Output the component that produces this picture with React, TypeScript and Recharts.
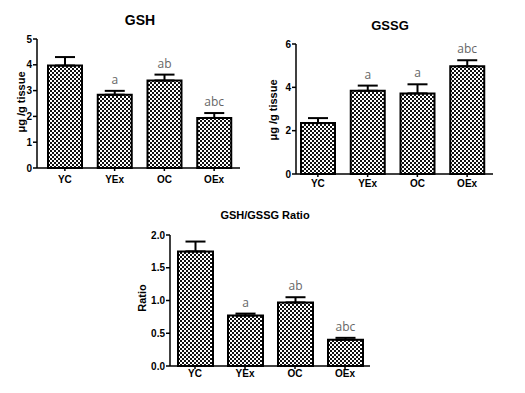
import React from "react";
import { BarChart, Bar, XAxis, YAxis, ErrorBar, LabelList } from "recharts";

const categories = ["YC", "YEx", "OC", "OEx"];

const gshMean = [3.97, 2.84, 3.39, 1.94];
const gshErr = [0.33, 0.15, 0.23, 0.19];
const gshLetters = ["", "a", "ab", "abc"];
const gshTicks = [0, 1, 2, 3, 4, 5];

const gssgMean = [2.35, 3.84, 3.72, 4.97];
const gssgErr = [0.23, 0.24, 0.42, 0.28];
const gssgLetters = ["", "a", "a", "abc"];
const gssgTicks = [0, 2, 4, 6];

const ratioMean = [1.75, 0.77, 0.97, 0.4];
const ratioErr = [0.15, 0.03, 0.08, 0.03];
const ratioLetters = ["", "a", "ab", "abc"];
const ratioTicks = [0, 0.5, 1, 1.5, 2];

const SANS = "'Liberation Sans', Arial, sans-serif";
const LETTER_FONT = "'Open Sans', 'DejaVu Sans', sans-serif";

type PanelProps = {
  id: string;
  box: { left: number; top: number; width: number; height: number };
  margin: { top: number; right: number; bottom: number; left: number };
  yWidth: number;
  pad: { left: number; right: number };
  xTickMargin: number;
  means: number[];
  errs: number[];
  letters: string[];
  ticks: number[];
  decimals: number;
  barSize: number;
  title: string;
  titleAt: { x: number; y: number; size: number };
  yLabel: string;
  yLabelAt: { x: number; y: number };
};

function Panel(p: PanelProps) {
  const data = categories.map((name, i) => ({
    name,
    mean: p.means[i],
    err: [0, p.errs[i]],
    letter: p.letters[i],
  }));
  const axisStroke = { stroke: "#000", strokeWidth: 1.5 };

  // letters sit just above the error bar cap
  const renderLetter = (props: any) => {
    const { x, y, width, height, index, value } = props;
    if (!value) return null;
    const perUnit = height / p.means[index];
    const errTop = y - p.errs[index] * perUnit;
    return (
      <text
        x={x + width / 2}
        y={errTop - 7}
        textAnchor="middle"
        fontSize={12}
        fill="#666"
        fontFamily={LETTER_FONT}
      >
        {value}
      </text>
    );
  };

  return (
    <>
      <div
        style={{
          position: "absolute",
          left: p.box.left,
          top: p.box.top,
          width: p.box.width,
          height: p.box.height,
        }}
      >
        <BarChart width={p.box.width} height={p.box.height} data={data} margin={p.margin} barSize={p.barSize}>
          <defs>
            <pattern id={p.id} width={4} height={4} patternUnits="userSpaceOnUse">
              <rect width={4} height={4} fill="#fff" />
              <rect x={0} y={0} width={2} height={2} fill="#111" />
              <rect x={2} y={2} width={2} height={2} fill="#111" />
            </pattern>
          </defs>
          <XAxis
            dataKey="name"
            interval={0}
            height={22}
            padding={p.pad}
            axisLine={axisStroke}
            tickLine={axisStroke}
            tickSize={3}
            tickMargin={p.xTickMargin}
            tick={{ fill: "#000", fontSize: 10, fontWeight: "bold", fontFamily: SANS }}
          />
          <YAxis
            width={p.yWidth}
            domain={[p.ticks[0], p.ticks[p.ticks.length - 1]]}
            ticks={p.ticks}
            interval={0}
            axisLine={axisStroke}
            tickLine={axisStroke}
            tickSize={4}
            tickMargin={1}
            tickFormatter={(v: number) => v.toFixed(p.decimals)}
            tick={{ fill: "#000", fontSize: 10, fontWeight: "bold", fontFamily: SANS }}
          />
          <Bar dataKey="mean" fill={`url(#${p.id})`} stroke="#000" strokeWidth={2} isAnimationActive={false}>
            <ErrorBar dataKey="err" direction="y" width={10} stroke="#000" strokeWidth={2} />
            <LabelList dataKey="letter" content={renderLetter} />
          </Bar>
        </BarChart>
      </div>
      <div
        style={{
          position: "absolute",
          left: p.titleAt.x,
          top: p.titleAt.y,
          transform: "translate(-50%, -50%)",
          fontFamily: SANS,
          fontWeight: "bold",
          fontSize: p.titleAt.size,
          whiteSpace: "nowrap",
          lineHeight: 1,
        }}
      >
        {p.title}
      </div>
      <div
        style={{
          position: "absolute",
          left: p.yLabelAt.x,
          top: p.yLabelAt.y,
          transform: "translate(-50%, -50%) rotate(-90deg)",
          fontFamily: SANS,
          fontWeight: "bold",
          fontSize: 11,
          whiteSpace: "nowrap",
          lineHeight: 1,
        }}
      >
        {p.yLabel}
      </div>
    </>
  );
}

export default function App() {
  return (
    <div style={{ position: "absolute", left: 0, top: 0, width: 525, height: 393, background: "#fff" }}>
      <Panel
        id="chkGsh"
        box={{ left: 0, top: 0, width: 260, height: 195 }}
        margin={{ top: 39, right: 20, bottom: 5, left: 3 }}
        yWidth={34}
        pad={{ left: 3, right: 1 }}
        xTickMargin={5}
        means={gshMean}
        errs={gshErr}
        letters={gshLetters}
        ticks={gshTicks}
        decimals={0}
        barSize={34}
        title="GSH"
        titleAt={{ x: 140, y: 20, size: 14 }}
        yLabel="μg /g tissue"
        yLabelAt={{ x: 21, y: 102 }}
      />
      <Panel
        id="chkGssg"
        box={{ left: 260, top: 0, width: 265, height: 200 }}
        margin={{ top: 44, right: 32, bottom: 4, left: 6 }}
        yWidth={30}
        pad={{ left: -3, right: 1 }}
        xTickMargin={3}
        means={gssgMean}
        errs={gssgErr}
        letters={gssgLetters}
        ticks={gssgTicks}
        decimals={0}
        barSize={34}
        title="GSSG"
        titleAt={{ x: 390, y: 25, size: 13 }}
        yLabel="μg /g tissue"
        yLabelAt={{ x: 273, y: 110 }}
      />
      <Panel
        id="chkRatio"
        box={{ left: 120, top: 200, width: 280, height: 193 }}
        margin={{ top: 35, right: 30, bottom: 5, left: 16 }}
        yWidth={34}
        pad={{ left: 0, right: 0 }}
        xTickMargin={1}
        means={ratioMean}
        errs={ratioErr}
        letters={ratioLetters}
        ticks={ratioTicks}
        decimals={1}
        barSize={35}
        title="GSH/GSSG Ratio"
        titleAt={{ x: 265, y: 215, size: 11 }}
        yLabel="Ratio"
        yLabelAt={{ x: 142, y: 298 }}
      />
    </div>
  );
}
